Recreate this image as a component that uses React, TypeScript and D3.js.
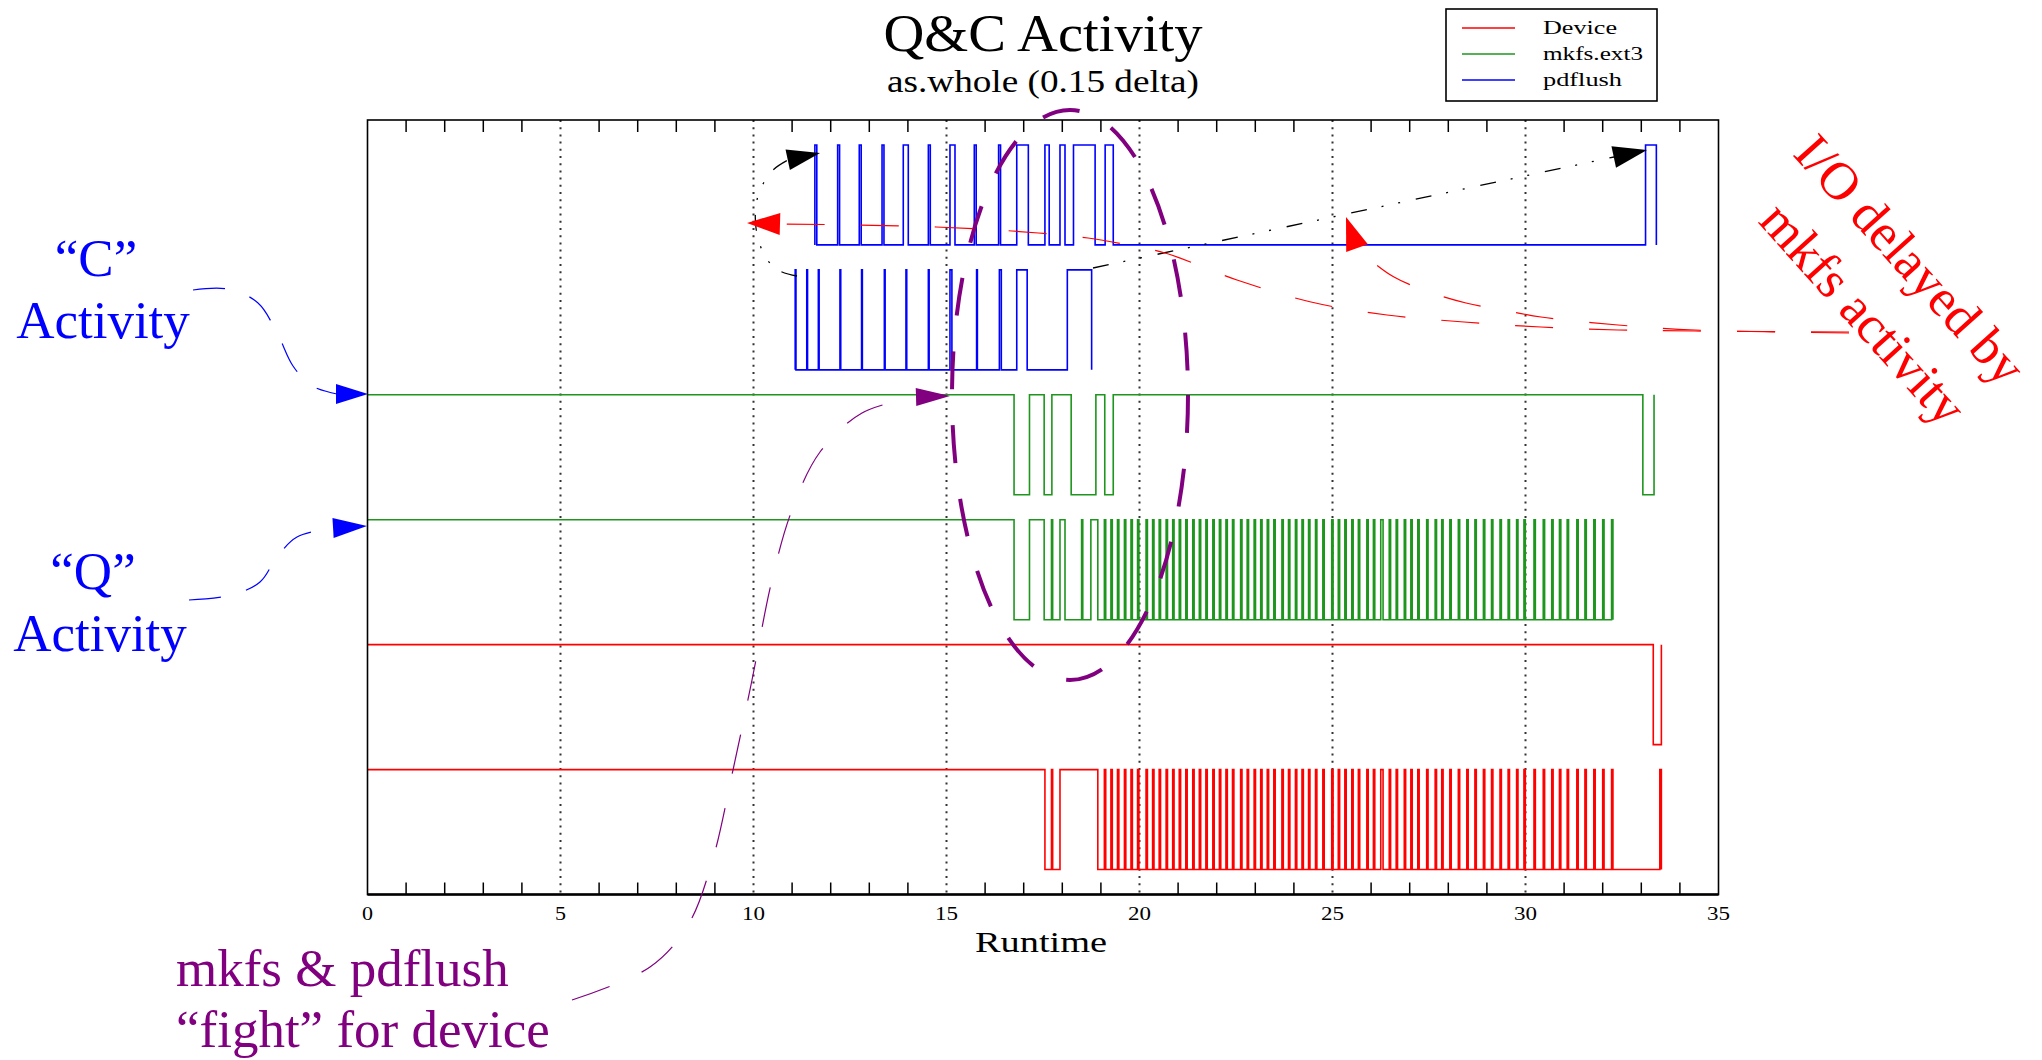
import React from "react";
import * as d3 from "d3";

// runtime axis
const xTickValues = [0, 5, 10, 15, 20, 25, 30, 35];
const legendNames = ["Device", "mkfs.ext3", "pdflush"];

// [from, to] runtime intervals where a trace sits on its other level
const pdflushCPulses: [number, number][] = [
  [11.59, 11.64], [12.18, 12.23], [12.74, 12.79], [13.33, 13.38], [13.88, 14.01],
  [14.53, 14.58], [15.09, 15.22], [15.72, 15.77], [16.35, 16.4], [16.82, 17.12],
  [17.55, 17.66], [17.94, 18.07], [18.29, 18.85], [19.11, 19.32], [33.11, 33.39],
];
const pdflushQPulses: [number, number][] = [
  [11.08, 11.1], [11.38, 11.4], [11.68, 11.7], [12.24, 12.26], [12.8, 12.82],
  [13.39, 13.41], [13.95, 13.97], [14.53, 14.55], [15.09, 15.14], [15.78, 15.8],
  [16.37, 16.42], [16.82, 17.09], [18.13, 18.76],
];
const mkfsCPulses: [number, number][] = [
  [16.75, 17.15], [17.53, 17.73], [18.23, 18.87], [19.1, 19.32], [33.04, 33.33],
];
const mkfsQPulses: [number, number][] = [
  [0, 16.75], [17.15, 17.53], [17.72, 17.75], [17.94, 18.07], [18.5, 18.53],
  [18.74, 18.92], [26.25, 26.31],
];
const deviceCPulses: [number, number][] = [[33.31, 33.52]];
const deviceQPulses: [number, number][] = [
  [0, 17.55], [17.72, 17.75], [17.94, 18.92], [26.25, 26.31], [33.48, 33.52],
];
// short Q spikes shared by mkfs.ext3 and the device
const qSpikes = [
  19.09, 19.26, 19.43, 19.61, 19.78, 19.95, 20.17, 20.34, 20.51, 20.69, 20.86,
  21.03, 21.2, 21.38, 21.55, 21.72, 21.9, 22.07, 22.24, 22.41, 22.62, 22.79,
  22.97, 23.14, 23.31, 23.48, 23.69, 23.86, 24.04, 24.21, 24.38, 24.56, 24.75,
  24.98, 25.15, 25.32, 25.5, 25.67, 25.89, 26.06, 26.47, 26.65, 26.86, 27.03,
  27.21, 27.44, 27.66, 27.83, 28.04, 28.26, 28.48, 28.69, 28.91, 29.12, 29.34,
  29.55, 29.77, 29.96, 30.22, 30.46, 30.68, 30.88, 31.08, 31.33, 31.54, 31.77,
  32.0, 32.23,
];
const SPIKE = 0.035;

const spikePulses = qSpikes.map((t) => [t, t + SPIKE] as [number, number]);

const traces = [
  { name: "pdflush", lane: 5, base: 0, start: 11.59, end: 33.39, pulses: pdflushCPulses },
  { name: "pdflush", lane: 4, base: 0, start: 11.08, end: 18.76, pulses: pdflushQPulses },
  { name: "mkfs.ext3", lane: 3, base: 1, start: 0, end: 33.33, pulses: mkfsCPulses },
  { name: "mkfs.ext3", lane: 2, base: 0, start: 0, end: 32.26, pulses: [...mkfsQPulses, ...spikePulses] },
  { name: "Device", lane: 1, base: 1, start: 0, end: 33.52, pulses: deviceCPulses },
  { name: "Device", lane: 0, base: 0, start: 0, end: 33.52, pulses: [...deviceQPulses, ...spikePulses] },
];

const colors: Record<string, string> = {
  Device: "#ff0000",
  "mkfs.ext3": "#1e961e",
  pdflush: "#0000ff",
};

const serif = "'Liberation Serif', 'Times New Roman', serif";

function stepPoints(tr: typeof traces[number]) {
  const alt = 1 - tr.base;
  const pulses = [...tr.pulses].sort((a, b) => a[0] - b[0]);
  // a trace that begins inside a pulse at the left frame starts on its other level
  const startsHigh = pulses[0][0] === 0 && tr.start === 0;
  const pts: [number, number][] = startsHigh ? [] : [[tr.start, tr.base]];
  pulses.forEach(([a, b], i) => {
    if (i === 0 && startsHigh) pts.push([a, alt], [b, alt], [b, tr.base]);
    else pts.push([a, tr.base], [a, alt], [b, alt], [b, tr.base]);
  });
  const last = pulses[pulses.length - 1][1];
  if (last < tr.end) pts.push([tr.end, tr.base]);
  return pts;
}

function arrowHead(tip: [number, number], from: [number, number], len: number, half: number) {
  const dx = tip[0] - from[0];
  const dy = tip[1] - from[1];
  const d = Math.hypot(dx, dy);
  const ux = dx / d, uy = dy / d;
  const bx = tip[0] - ux * len, by = tip[1] - uy * len;
  return `M${tip[0]},${tip[1]}L${bx - uy * half},${by + ux * half}L${bx + uy * half},${by - ux * half}Z`;
}

const curve = d3.line().curve(d3.curveCatmullRom);

export default function App() {
  const x = d3.scaleLinear().domain([0, 35]).range([367.5, 1718.5]);
  const y = d3.scaleLinear().domain([0, 6.2]).range([894.5, 120]);
  const [top, bottom] = [y(6.2), y(0)];

  const minor = x.ticks(35).filter((v) => v % 5 !== 0);
  const grid = xTickValues.filter((v) => v > 0 && v < 35);

  return (
    <svg
      width={2042}
      height={1060}
      style={{ position: "absolute", left: 0, top: 0, background: "#fff" }}
      fontFamily={serif}
    >
      <rect width={2042} height={1060} fill="#fff" />

      {/* title */}
      <text x={1043} y={51} fontSize={53} textAnchor="middle" textLength={319} lengthAdjust="spacingAndGlyphs">
        Q&amp;C Activity
      </text>
      <text x={1043} y={92} fontSize={31} textAnchor="middle" textLength={312} lengthAdjust="spacingAndGlyphs">
        as.whole (0.15 delta)
      </text>

      {/* grid */}
      {grid.map((v) => (
        <line key={"g" + v} x1={x(v)} x2={x(v)} y1={top} y2={bottom} stroke="#333" strokeWidth={2} strokeDasharray="2,5.2" />
      ))}
      {minor.map((v) => (
        <g key={"t" + v} stroke="#000" strokeWidth={1.5}>
          <line x1={x(v)} x2={x(v)} y1={top} y2={top + 12} />
          <line x1={x(v)} x2={x(v)} y1={bottom} y2={bottom - 12} />
        </g>
      ))}

      {/* traces */}
      {traces.map((tr, i) => {
        const line = d3
          .line<[number, number]>()
          .x((d) => x(d[0]))
          .y((d) => y(tr.lane + (d[1] ? 1 : 0.2)));
        return (
          <path key={i} d={line(stepPoints(tr)) || ""} fill="none" stroke={colors[tr.name]} strokeWidth={1.6} />
        );
      })}

      {/* frame */}
      <rect x={x(0)} y={top} width={x(35) - x(0)} height={bottom - top} fill="none" stroke="#000" strokeWidth={1.6} />
      <line x1={x(0)} x2={x(35)} y1={bottom} y2={bottom} stroke="#000" strokeWidth={2.4} />

      {/* tick labels */}
      {xTickValues.map((v) => (
        <text
          key={"l" + v}
          x={x(v)}
          y={920}
          fontSize={19}
          textAnchor="middle"
          textLength={v < 10 ? 11 : 23}
          lengthAdjust="spacingAndGlyphs"
        >
          {v}
        </text>
      ))}
      <text x={1041} y={952} fontSize={29} textAnchor="middle" textLength={132} lengthAdjust="spacingAndGlyphs">
        Runtime
      </text>

      {/* legend */}
      <rect x={1446} y={9} width={211} height={92} fill="#fff" stroke="#000" strokeWidth={1.6} />
      {legendNames.map((n, i) => {
        const ly = 28 + i * 26;
        return (
          <g key={n}>
            <line x1={1462} x2={1515} y1={ly} y2={ly} stroke={colors[n]} strokeWidth={1.6} />
            <text
              x={1543}
              y={ly + 6}
              fontSize={19}
              textLength={[74, 100, 79][i]}
              lengthAdjust="spacingAndGlyphs"
            >
              {n}
            </text>
          </g>
        );
      })}

      {/* annotations: Q / C activity */}
      <g fill="#0000ff" fontSize={53} textAnchor="middle">
        <text x={96} y={276}>“C”</text>
        <text x={103} y={338}>Activity</text>
        <text x={93} y={589}>“Q”</text>
        <text x={100} y={651}>Activity</text>
      </g>
      <g fill="none" stroke="#0000ff" strokeWidth={1.2} strokeDasharray="32,26">
        <path d={curve([[193, 290], [228, 289], [258, 303], [278, 335], [293, 366], [312, 386], [337, 394]]) || ""} />
        <path d={curve([[189, 600], [232, 595], [260, 582], [277, 557], [297, 537], [333, 528]]) || ""} />
      </g>
      <path d={arrowHead([368, 394], [336, 394], 32, 10)} fill="#0000ff" />
      <path d={arrowHead([367, 526], [333, 528], 34, 10)} fill="#0000ff" />

      {/* mkfs & pdflush */}
      <g fill="#800080" fontSize={53}>
        <text x={176} y={986}>mkfs &amp; pdflush</text>
        <text x={176} y={1047}>“fight” for device</text>
      </g>
      <path
        d={
          curve([
            [572, 1000], [650, 967], [688, 925], [712, 862], [733, 770], [752, 680],
            [772, 580], [792, 510], [820, 452], [862, 413], [916, 397],
          ]) || ""
        }
        fill="none"
        stroke="#800080"
        strokeWidth={1.2}
        strokeDasharray="40,35"
      />
      <path d={arrowHead([950, 396], [916, 397], 34, 9)} fill="#800080" />
      <ellipse cx={1070} cy={395} rx={118} ry={285} fill="none" stroke="#800080" strokeWidth={4} strokeDasharray="38,36" />

      {/* black dash-dot arrows */}
      <g fill="none" stroke="#000" strokeWidth={1.3} strokeDasharray="16,15,2,15,2,16">
        <path d={curve([[1093, 268], [1614, 157]]) || ""} />
        <path d={curve([[797, 276], [780, 271], [766, 258], [756, 228], [758, 196], [772, 171], [788, 160]]) || ""} />
      </g>
      <path d={arrowHead([1647, 150], [1614, 157], 34, 11)} fill="#000" />
      <path d={arrowHead([820, 153], [787, 160], 33, 10.5)} fill="#000" />

      {/* I/O delayed */}
      <g fill="none" stroke="#ff0000" strokeWidth={1.2} strokeDasharray="38,36">
        <path
          d={
            curve([
              [1849, 332], [1695, 331], [1618, 330], [1541, 327], [1464, 322], [1387, 315],
              [1311, 302], [1237, 280], [1165, 253], [1128, 245], [1088, 238], [1012, 231],
              [936, 227], [859, 225], [782, 224],
            ]) || ""
          }
        />
        <path
          d={
            curve([
              [1849, 333], [1695, 330], [1618, 325], [1541, 317], [1503, 310], [1466, 303],
              [1429, 292], [1394, 277], [1368, 258], [1357, 248],
            ]) || ""
          }
        />
      </g>
      <path d={arrowHead([747, 223], [782, 224], 33, 11)} fill="#ff0000" />
      <path d={arrowHead([1346, 217], [1357, 248], 33, 11.5)} fill="#ff0000" />
      <g fill="#ff0000" fontSize={53} textAnchor="middle">
        <text transform="translate(1911,259) rotate(48)" dy="0.35em">I/O delayed by</text>
        <text transform="translate(1864,313) rotate(48)" dy="0.35em">mkfs activity</text>
      </g>
    </svg>
  );
}
